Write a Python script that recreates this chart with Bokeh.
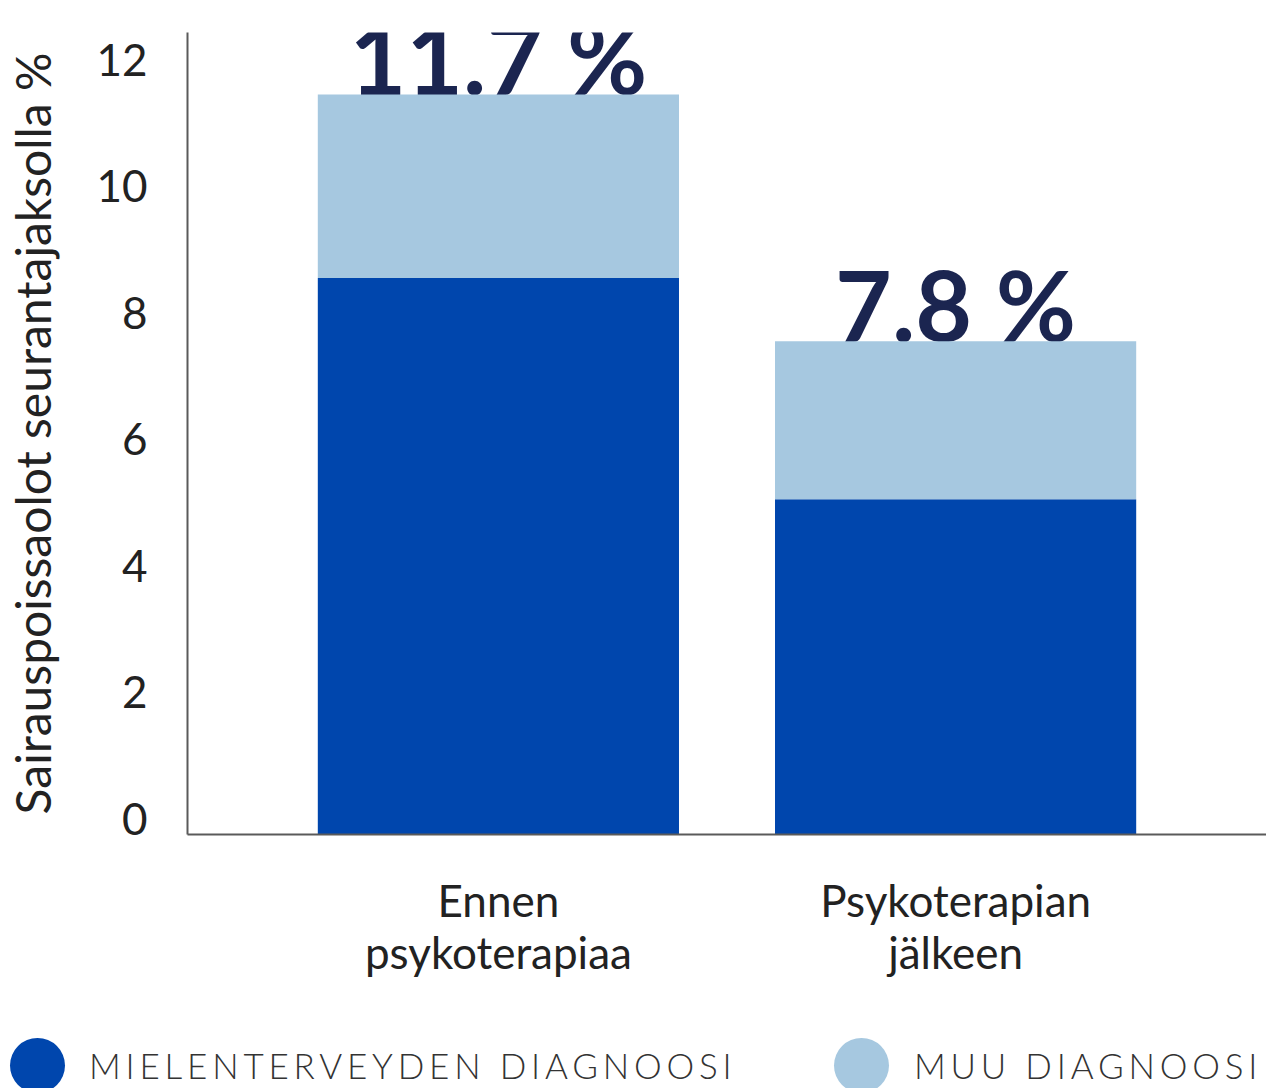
from bokeh.plotting import figure
from bokeh.models import Range1d, LinearAxis, FixedTicker, ColumnDataSource, Div
from bokeh.layouts import column
from bokeh.embed import file_html
from bokeh.resources import INLINE
from bokeh.core.properties import value

# ---------------- data ----------------
categories = ["Ennen\npsykoterapiaa", "Psykoterapian\njälkeen"]
mental = [8.8, 5.3]          # mielenterveyden diagnoosi
other = [2.9, 2.5]           # muu diagnoosi
totals = [11.7, 7.8]
total_labels = ["11.7 %", "7.8 %"]
y_ticks = [0, 2, 4, 6, 8, 10, 12]
legend_labels = ["MIELENTERVEYDEN DIAGNOOSI", "MUU DIAGNOOSI"]
colors = ["#0046AD", "#A6C8E0"]
y_title = "Sairauspoissaolot seurantajaksolla %"

# ---------------- layout constants ----------------
W = 1266
MAIN_H = 1000
LEG_H = 88
FONT = "Lato"

x_pos = list(range(1, len(categories) + 1))
src = ColumnDataSource(dict(x=x_pos, mental=mental, other=other,
                            total=totals, label=total_labels))

p = figure(width=W, height=MAIN_H,
           x_range=Range1d(0.32, 2.68), y_range=Range1d(0, 12.68),
           output_backend="svg", toolbar_location=None,
           y_axis_location=None,
           min_border_left=187, min_border_right=0,
           min_border_top=32, min_border_bottom=166)
p.outline_line_color = None
p.grid.visible = False
p.background_fill_color = "white"
p.border_fill_color = "white"

# tick labels sit just above their tick in the reference
p.extra_y_ranges = {"lab": Range1d(-0.25, 12.43)}
yaxis = LinearAxis(y_range_name="lab", ticker=FixedTicker(ticks=y_ticks),
                   axis_label=y_title)
p.add_layout(yaxis, "left")

yaxis.axis_line_color = "#5a5a5a"
yaxis.axis_line_width = 2
yaxis.major_tick_line_color = None
yaxis.minor_tick_line_color = None
yaxis.major_label_text_font = FONT
yaxis.major_label_text_font_size = "44px"
yaxis.major_label_text_color = "#222222"
yaxis.major_label_standoff = 34
yaxis.axis_label_text_font = FONT
yaxis.axis_label_text_font_size = "48px"
yaxis.axis_label_text_font_style = "normal"
yaxis.axis_label_text_color = "#222222"
yaxis.axis_label_standoff = 32

xa = p.xaxis[0]
xa.ticker = FixedTicker(ticks=x_pos)
xa.major_label_overrides = {x: c for x, c in zip(x_pos, categories)}
xa.axis_line_color = "#5a5a5a"
xa.axis_line_width = 2
xa.major_tick_line_color = None
xa.minor_tick_line_color = None
xa.major_label_text_font = FONT
xa.major_label_text_font_size = "44px"
xa.major_label_text_color = "#222222"
xa.major_label_text_line_height = 1.0
xa.major_label_standoff = 33

# totals drawn first so the bars overlap their lower part
p.text(x="x", y="total", text="label", source=src,
       text_font=value(FONT), text_font_style="bold",
       text_font_size="98px", text_color="#1B2550",
       text_align="center", text_baseline="alphabetic", y_offset=-37)

p.vbar_stack(["mental", "other"], x="x", width=0.79, source=src,
             color=colors, line_color=None)

# ---------------- legend strip (HTML) ----------------
leg_circle_left = [10, 834]
leg_text_left = [89, 914]
items = []
for lab, c, cl, tl in zip(legend_labels, colors, leg_circle_left, leg_text_left):
    items.append(
        f'<span style="position:absolute;left:{cl}px;top:38px;width:55px;height:55px;'
        f'border-radius:50%;background:{c};"></span>'
        f'<span style="position:absolute;left:{tl}px;top:48px;line-height:35px;'
        f'white-space:nowrap;">{lab}</span>')
html = (f'<div style="position:relative;width:{W}px;height:{LEG_H}px;overflow:hidden;'
        f'font-family:Lato;font-weight:300;font-size:35px;letter-spacing:4.8px;'
        f'color:#333333;">' + "".join(items) + '</div>')
leg = Div(text=html, width=W, height=LEG_H, margin=0)

layout = column(p, leg, spacing=0)
open("out.html", "w").write(file_html(layout, INLINE))
